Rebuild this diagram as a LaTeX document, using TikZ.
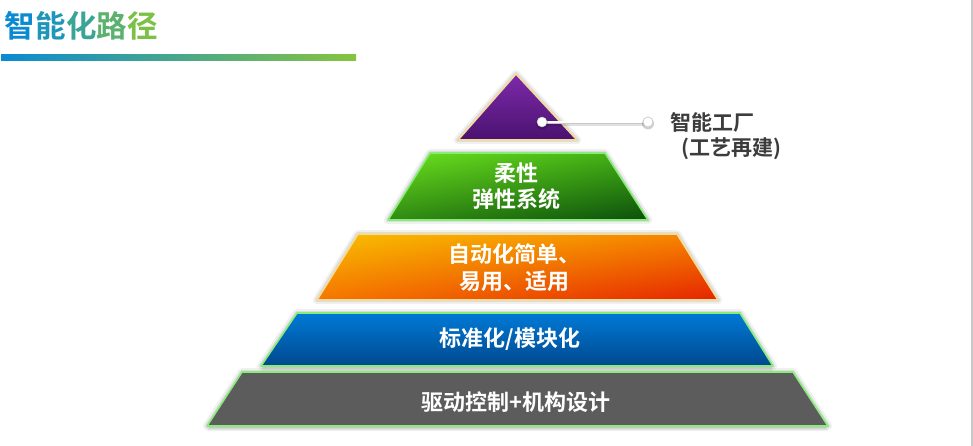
\documentclass[tikz,border=0pt]{standalone}
\usepackage{fontspec}
\setmainfont{Noto Sans CJK SC}[BoldFont={Noto Sans CJK SC Bold}]
\usetikzlibrary{shadows,shadings}
\definecolor{tblue}{HTML}{0B8AD2}
\definecolor{tgreen}{HTML}{86C440}
\definecolor{labelgray}{HTML}{3C3C3C}
\definecolor{edgegreen}{HTML}{86EE78}
\definecolor{edgetan}{HTML}{F6DC9A}
\tikzset{
  layer/.style={line width=1.6pt, line join=round},
  halo/.style={draw=black, line width=8pt, opacity=0.06, line join=round},
  halob/.style={draw=black, line width=4pt, opacity=0.08, line join=round},
  ltext/.style={text=white, font=\bfseries\fontsize{22}{26.5}\selectfont, align=center, inner sep=0pt},
  lbl/.style={text=labelgray, font=\bfseries\fontsize{21}{25}\selectfont, anchor=west, inner sep=0pt},
  tchar/.style={font=\bfseries\fontsize{30.5}{32}\selectfont, inner sep=0pt, anchor=west},
}
\begin{document}
\begin{tikzpicture}[x=1pt,y=-1pt]
\useasboundingbox (0,0) rectangle (973,446);
\fill[white] (0,0) rectangle (973,446);
% right edge line
\fill[black!22] (970.5,0) rectangle (973,446);
% title
\node[tchar, text={rgb,255:red,11;green,138;blue,210}] (t1) at (4,26) {智};
\node[tchar, text={rgb,255:red,29;green,150;blue,185}, anchor=west] (t2) at (t1.east) {能};
\node[tchar, text={rgb,255:red,58;green,165;blue,150}, anchor=west] (t3) at (t2.east) {化};
\node[tchar, text={rgb,255:red,90;green,178;blue,110}, anchor=west] (t4) at (t3.east) {路};
\node[tchar, text={rgb,255:red,125;green,192;blue,70}, anchor=west] (t5) at (t4.east) {径};
\shade[left color=tblue, right color=tgreen] (1,54.5) rectangle (356,60.5);

% ---- halos / shadows
\foreach \s in {halo,halob}{
  \path[\s] (516,74) -- (577,140) -- (458,140) -- cycle;
  \path[\s] (430,153) -- (605,153) -- (648,220) -- (388,220) -- cycle;
  \path[\s] (358,234) -- (677,234) -- (718,300) -- (317,300) -- cycle;
  \path[\s] (297,313) -- (740,313) -- (773,366) -- (261,366) -- cycle;
  \path[\s] (242,372) -- (793,372) -- (828,426) -- (207,426) -- cycle;
}
\foreach \yy in {3,5}{
  \fill[black, opacity=0.05] (242,372+\yy) -- (793,372+\yy) -- (828,426+\yy) -- (207,426+\yy) -- cycle;
  \fill[black, opacity=0.05] (297,313+\yy) -- (740,313+\yy) -- (773,366+\yy) -- (261,366+\yy) -- cycle;
}

% ---- layers
\path[layer, draw=edgetan, top color={rgb,255:red,125;green,42;blue,170}, bottom color={rgb,255:red,74;green,18;blue,112}]
  (516,74) -- (577,140) -- (458,140) -- cycle;
\path[layer, draw=edgegreen, shade, upper left={rgb,255:red,110;green,225;blue,30}, upper right={rgb,255:red,62;green,170;blue,20}, lower left={rgb,255:red,48;green,140;blue,18}, lower right={rgb,255:red,12;green,78;blue,12}]
  (430,153) -- (605,153) -- (648,220) -- (388,220) -- cycle;
\path[layer, draw=edgetan, shade, upper left={rgb,255:red,248;green,192;blue,0}, upper right={rgb,255:red,246;green,128;blue,0}, lower left={rgb,255:red,245;green,118;blue,0}, lower right={rgb,255:red,228;green,36;blue,0}]
  (358,234) -- (677,234) -- (718,300) -- (317,300) -- cycle;
\path[layer, draw=edgegreen, top color={rgb,255:red,0;green,122;blue,214}, bottom color={rgb,255:red,0;green,72;blue,142}]
  (297,313) -- (740,313) -- (773,366) -- (261,366) -- cycle;
\path[layer, draw=edgegreen, fill={rgb,255:red,92;green,92;blue,92}]
  (242,372) -- (793,372) -- (828,426) -- (207,426) -- cycle;

% ---- layer texts
\node[ltext] (l2) at (516,186) {柔性\\弹性系统};
\node[ltext] (l3) at (514,267.5) {自动化简单、\\易用、适用};
\node[ltext] (l4) at (510,339) {标准化/模块化};
\node[ltext] (l5) at (516,402) {驱动控制+机构设计};

% ---- callout
\coordinate (d1) at (542,122);
\coordinate (d2) at (648,122);
\draw[black, opacity=0.12, line width=3.5pt] ([yshift=-1.8pt]d1) -- ([yshift=-1.8pt]d2);
\draw[white, line width=2.4pt] (d1) -- (d2);
\draw[black!22, line width=0.4pt] ([yshift=-1.3pt]d1) -- ([yshift=-1.3pt]d2);
\fill[black, opacity=0.18] ([yshift=-1.5pt]d1) circle (6pt);
\fill[black, opacity=0.18] ([yshift=-1.5pt]d2) circle (6pt);
\node[circle, fill=white, draw=black!25, line width=0.5pt, minimum size=10pt, inner sep=0pt] (c1) at (d1) {};
\node[circle, fill=white, draw=black!25, line width=0.5pt, minimum size=10pt, inner sep=0pt] (c2) at (d2) {};
\node[lbl] (lab1) at (670,122) {智能工厂};
\node[lbl] (lab2) at (681,149) {(工艺再建)};
\end{tikzpicture}
\end{document}
